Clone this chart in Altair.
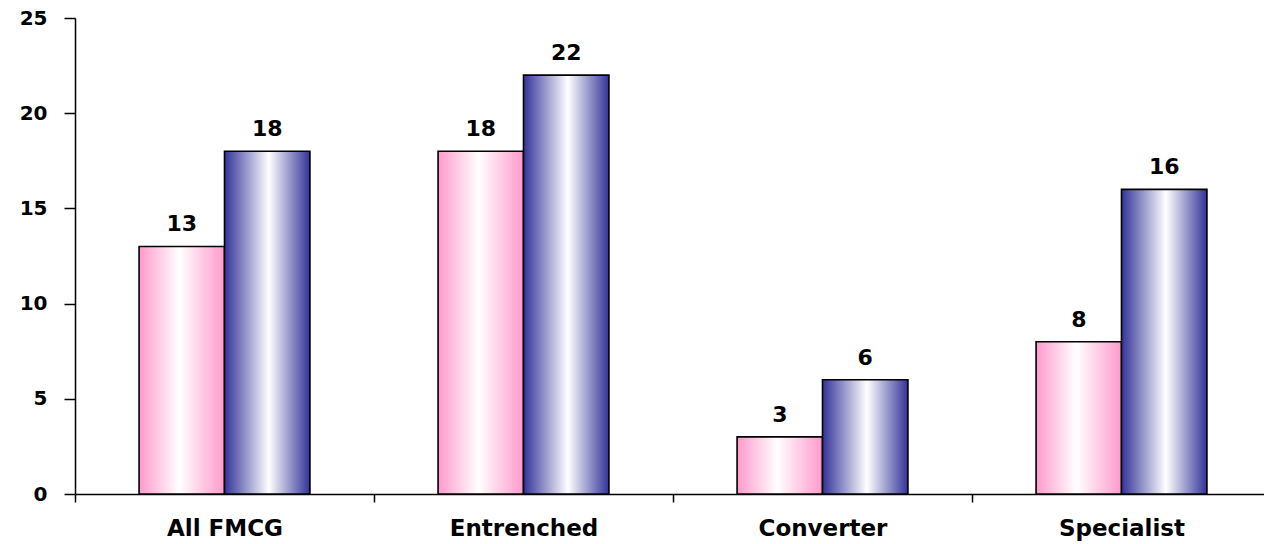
import altair as alt
import pandas as pd

categories = ["All FMCG", "Entrenched", "Converter", "Specialist"]
series_names = ["Series A", "Series B"]
pink_values = [13, 18, 3, 8]
blue_values = [18, 22, 6, 16]
y_ticks = [0, 5, 10, 15, 20, 25]

rows = []
for c, a, b in zip(categories, pink_values, blue_values):
    rows.append({"cat": c, "series": series_names[0], "value": a})
    rows.append({"cat": c, "series": series_names[1], "value": b})
df = pd.DataFrame(rows)

FONT = "DejaVu Sans"

pink_grad = alt.Gradient(
    gradient="linear",
    stops=[
        alt.GradientStop(color="#FF99CC", offset=0),
        alt.GradientStop(color="#FFFFFF", offset=0.47),
        alt.GradientStop(color="#FF99CC", offset=1),
    ],
    x1=0, x2=1, y1=0, y2=0,
)
blue_grad = alt.Gradient(
    gradient="linear",
    stops=[
        alt.GradientStop(color="#333399", offset=0),
        alt.GradientStop(color="#FFFFFF", offset=0.52),
        alt.GradientStop(color="#333399", offset=1),
    ],
    x1=0, x2=1, y1=0, y2=0,
)

x_enc = alt.X(
    "cat:N",
    sort=categories,
    scale=alt.Scale(domain=categories, range=[0, 1196], paddingInner=0, paddingOuter=0),
    axis=alt.Axis(
        title=None,
        labelAngle=0,
        labelFont=FONT,
        labelFontWeight="bold",
        labelFontSize=23,
        labelColor="black",
        labelPadding=15,
        domainColor="black",
        domainWidth=1.5,
        tickColor="black",
        tickWidth=1.5,
        tickSize=8,
        tickBand="extent",
        grid=False,
    ),
)
xoff_enc = alt.XOffset(
    "series:N",
    scale=alt.Scale(domain=series_names, paddingInner=0, paddingOuter=0.75),
)
y_enc = alt.Y(
    "value:Q",
    scale=alt.Scale(domain=[0, 25], nice=False, zero=True),
    axis=alt.Axis(
        title=None,
        values=y_ticks,
        labelFont=FONT,
        labelFontWeight="bold",
        labelFontSize=20,
        labelColor="black",
        labelPadding=17,
        domainColor="black",
        domainWidth=1.5,
        tickColor="black",
        tickWidth=1.5,
        tickSize=11,
        grid=False,
    ),
)

base = alt.Chart(df)

pink_bars = base.transform_filter(alt.datum.series == series_names[0]).mark_bar(
    fill=pink_grad, stroke="black", strokeWidth=1.6
).encode(x=x_enc, xOffset=xoff_enc, y=y_enc)

blue_bars = base.transform_filter(alt.datum.series == series_names[1]).mark_bar(
    fill=blue_grad, stroke="black", strokeWidth=1.6
).encode(x=x_enc, xOffset=xoff_enc, y=y_enc)

labels = base.mark_text(
    font=FONT, fontWeight="bold", fontSize=22, color="black",
    baseline="alphabetic", align="center", dy=-15,
).encode(x=x_enc, xOffset=xoff_enc, y=y_enc, text="value:Q")

chart = alt.layer(pink_bars, blue_bars, labels).properties(
    width=1189,
    height=476,
    autosize=alt.AutoSizeParams(type="none"),
    padding={"left": 75, "top": 18, "right": 0, "bottom": 50},
    background="white",
).configure_view(stroke=None)

chart.save("out.html", embed_options={"renderer": "svg", "actions": False})
